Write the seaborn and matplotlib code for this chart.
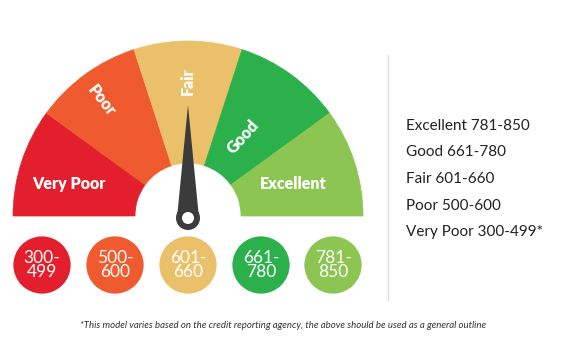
import numpy as np
import pandas as pd
import matplotlib.pyplot as plt
import seaborn as sns
from matplotlib.patches import Wedge, Polygon, Circle

# data
categories = ["Very Poor", "Poor", "Fair", "Good", "Excellent"]
ranges = ["300-499", "500-600", "601-660", "661-780", "781-850"]
colors = ["#e41f2d", "#ef5b2f", "#ebc06a", "#2cb04b", "#8cc551"]
needle_position = 2.5  # in segment units, 0 = left end
footnote = ("*This model varies based on the credit reporting agency, "
            "the above should be used as a general outline")

sns.set_theme(style="white")
plt.rcParams["font.family"] = ["Lato", "DejaVu Sans"]

W, H = 570, 364
fig = plt.figure(figsize=(W / 100, H / 100), dpi=100)
ax = fig.add_axes([0, 0, 1, 1])
ax.set_xlim(0, W)
ax.set_ylim(0, H)
ax.set_aspect("equal")
ax.axis("off")

# gauge geometry (pixel coords, y up)
cx, cy = 188, H - 216
R, r_in = 175, 53
n = len(categories)
step = 180 / n

for i, c in enumerate(colors):
    t2 = 180 - i * step
    t1 = t2 - step
    ax.add_patch(Wedge((cx, cy), R, t1, t2, width=R - r_in, facecolor=c,
                       edgecolor=c, linewidth=0.5))

# segment labels
label_pos = [(69, 184, 0), (102, 101, -52), (188, 81, 90), (243, 137, 48), (293, 184, 0)]
for name, (x, y, rot) in zip(categories, label_pos):
    ax.text(x, H - y, name, color="white", fontsize=11.5, fontweight="heavy",
            ha="center", va="center", rotation=rot, rotation_mode="anchor")

# needle
ang = np.deg2rad(180 - needle_position * step)
pcx, pcy = cx, H - 218
tip = (pcx + 113 * np.cos(ang), pcy + 113 * np.sin(ang))
perp = np.array([-np.sin(ang), np.cos(ang)])
b1 = np.array([pcx, pcy]) + 11 * perp
b2 = np.array([pcx, pcy]) - 11 * perp
ax.add_patch(Polygon([tip, b1, b2], closed=True, facecolor="#3b3b3b", edgecolor="none"))
ax.add_patch(Circle((pcx, pcy), 12, facecolor="#3b3b3b", edgecolor="none"))
ax.add_patch(Circle((pcx, pcy), 6, facecolor="white", edgecolor="none"))

# score badges
badges = pd.DataFrame({"range": ranges, "x": [42, 115, 188, 261, 333], "y": [H - 265] * n})
sns.scatterplot(data=badges, x="x", y="y", hue="range", palette=colors, s=1700,
                linewidth=0, legend=False, ax=ax)
for r, x in zip(ranges, badges["x"]):
    lo, hi = r.split("-")
    ax.text(x, H - 265, f"{lo}-\n{hi}", color="white", fontsize=12.5, ha="center",
            va="center", linespacing=0.85)

# separator
ax.plot([388, 388], [H - 55, H - 300], color="#dddddd", linewidth=1)

# right side list
for k, (name, r) in enumerate(zip(categories[::-1], ranges[::-1])):
    txt = f"{name} {r}" + ("*" if name == "Very Poor" else "")
    ax.text(406, H - (126 + k * 26.5), txt, color="#222222", fontsize=11,
            ha="left", va="center")

ax.text(283, H - 325, footnote, color="#333333", fontsize=6.9, style="italic",
        ha="center", va="center")

ax.set_xlim(0, W)
ax.set_ylim(0, H)
fig.savefig("out.png", dpi=100)
